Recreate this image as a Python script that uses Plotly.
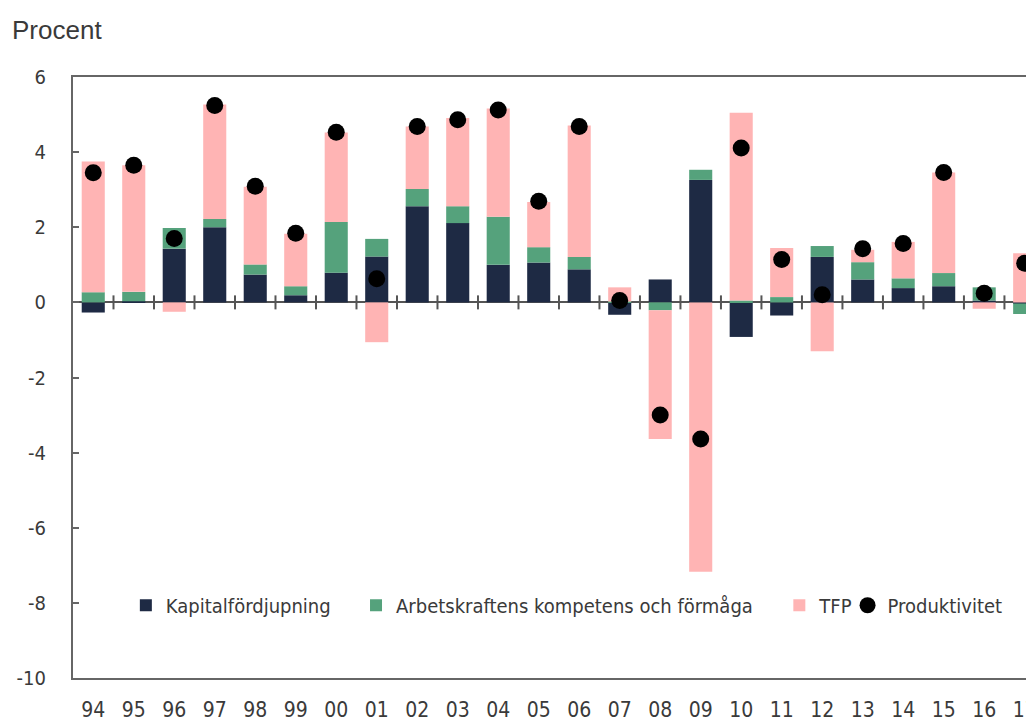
import plotly.graph_objects as go

years = ["94", "95", "96", "97", "98", "99", "00", "01", "02", "03", "04", "05",
         "06", "07", "08", "09", "10", "11", "12", "13", "14", "15", "16", "17"]
kapital = [-0.27, 0.03, 1.43, 2.00, 0.74, 0.19, 0.79, 1.22, 2.56, 2.11, 1.00, 1.06,
           0.88, -0.33, 0.61, 3.26, -0.92, -0.35, 1.21, 0.61, 0.38, 0.43, 0.05, -0.03]
arbetskraft = [0.27, 0.25, 0.55, 0.22, 0.27, 0.24, 1.35, 0.47, 0.46, 0.45, 1.28, 0.41,
               0.33, 0.02, -0.21, 0.27, 0.05, 0.14, 0.29, 0.46, 0.26, 0.35, 0.35, -0.28]
tfp = [3.48, 3.37, -0.25, 3.05, 2.07, 1.40, 2.38, -1.06, 1.66, 2.35, 2.88, 1.20,
       3.50, 0.38, -3.43, -7.17, 5.00, 1.31, -1.30, 0.33, 0.97, 2.68, -0.17, 1.31]
produktivitet = [3.45, 3.65, 1.70, 5.24, 3.09, 1.84, 4.53, 0.63, 4.68, 4.86, 5.12, 2.69,
                 4.68, 0.05, -3.00, -3.64, 4.11, 1.14, 0.20, 1.43, 1.57, 3.46, 0.24, 1.04]
y_ticks = [6, 4, 2, 0, -2, -4, -6, -8, -10]

FONT = "DejaVu Sans Condensed, Liberation Sans, sans-serif"
TXT = "#3a3a3a"
xs = list(range(len(years)))
bw = 0.57

fig = go.Figure()
fig.add_trace(go.Bar(x=xs, y=kapital, name="Kapitalfördjupning", width=bw, legend="legend",
                     marker=dict(color="#1e2a44", line=dict(width=0))))
fig.add_trace(go.Bar(x=xs, y=arbetskraft, name="Arbetskraftens kompetens och förmåga", width=bw,
                     legend="legend2", marker=dict(color="#55a27c", line=dict(width=0))))
fig.add_trace(go.Bar(x=xs, y=tfp, name="TFP", width=bw, legend="legend3",
                     marker=dict(color="#ffb4b4", line=dict(width=0))))
fig.add_trace(go.Scatter(x=xs, y=produktivitet, name="Produktivitet", mode="markers",
                         legend="legend4", marker=dict(color="black", size=17)))
# small tick marks on the zero line between categories
bounds = [i + 0.5 for i in xs[:-1]]
fig.add_trace(go.Scatter(x=bounds, y=[0] * len(bounds), mode="markers", showlegend=False,
                         hoverinfo="skip",
                         marker=dict(symbol="line-ns", size=10, line=dict(width=2, color="#555555"))))


def leg(x):
    return dict(orientation="h", x=x, y=0.121, xanchor="left", yanchor="middle",
                bgcolor="rgba(0,0,0,0)", font=dict(size=20, color=TXT), itemwidth=30)


fig.update_layout(
    width=1026, height=717,
    barmode="relative",
    plot_bgcolor="white", paper_bgcolor="white",
    margin=dict(l=65, r=0, t=69, b=47),
    font=dict(family=FONT, size=20, color=TXT),
    showlegend=True,
    legend=leg(0.055), legend2=leg(0.2945), legend3=leg(0.735), legend4=leg(0.806),
    annotations=[dict(text="Procent", xref="paper", yref="paper", x=-0.066, y=1.078,
                      xanchor="left", yanchor="middle", showarrow=False,
                      font=dict(family="Liberation Sans, sans-serif", size=26, color=TXT))],
)
fig.update_xaxes(range=[-0.5, 23.23], tickmode="array", tickvals=xs, ticktext=years,
                 ticks="", showline=True, linecolor="#666666", linewidth=2, mirror=True,
                 showgrid=False, zeroline=False, ticklabelstandoff=12, automargin=False,
                 ticklabeloverflow="allow", tickfont=dict(size=21))
fig.update_yaxes(range=[-10, 6], tickmode="array", tickvals=y_ticks,
                 ticktext=[str(v) for v in y_ticks],
                 ticks="inside", ticklen=6, tickcolor="#666666", tickwidth=2,
                 showline=True, linecolor="#666666", linewidth=2, mirror=True,
                 showgrid=False, zeroline=True, zerolinecolor="#555555", zerolinewidth=2,
                 ticklabelstandoff=21, automargin=False, tickfont=dict(size=20))

fig.write_html("out.html")
